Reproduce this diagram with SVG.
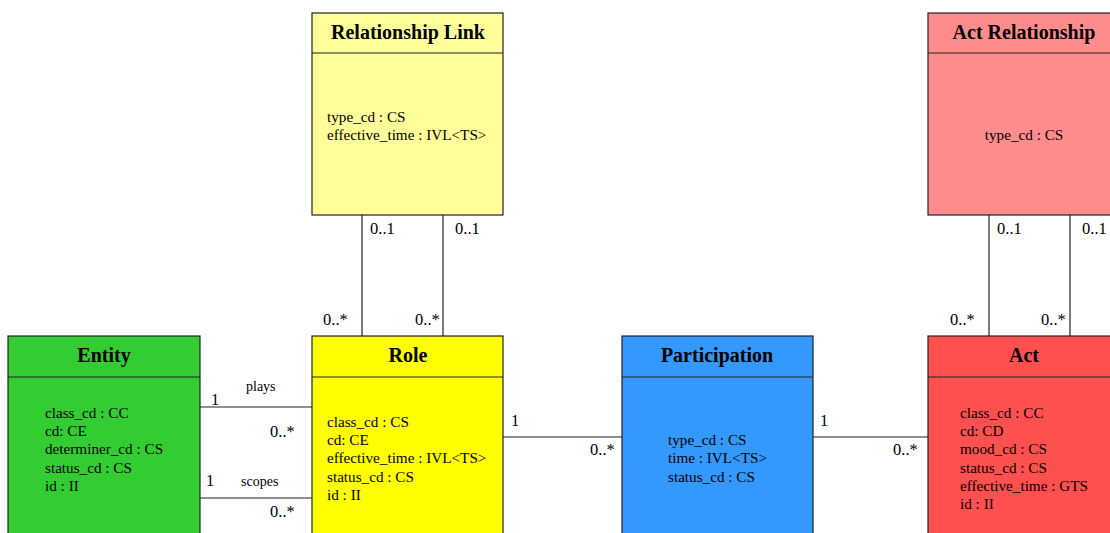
<svg xmlns="http://www.w3.org/2000/svg" width="1110" height="533" viewBox="0 0 1110 533">
<style>
.box{stroke:#222;stroke-width:1.2}
.ln{stroke:#222;stroke-width:1.2;fill:none}
.t{font-family:"Liberation Serif",serif;font-size:20px;font-weight:bold;text-anchor:middle;fill:#000}
.a{font-family:"Liberation Serif",serif;font-size:15.2px;fill:#000}
.m{font-family:"Liberation Serif",serif;font-size:16.5px;fill:#000}
.r{font-family:"Liberation Serif",serif;font-size:14px;fill:#000}
</style>
<rect width="1110" height="533" fill="#fff"/>
<g id="connectors">
<line class="ln" x1="362" y1="215" x2="362" y2="336"/>
<line class="ln" x1="443" y1="215" x2="443" y2="336"/>
<line class="ln" x1="989" y1="215" x2="989" y2="336"/>
<line class="ln" x1="1070" y1="215" x2="1070" y2="336"/>
<line class="ln" x1="200" y1="407" x2="312" y2="407"/>
<line class="ln" x1="200" y1="498" x2="312" y2="498"/>
<line class="ln" x1="503" y1="437" x2="622" y2="437"/>
<line class="ln" x1="813" y1="437" x2="928" y2="437"/>
<text class="m" x="370" y="234">0..1</text>
<text class="m" x="455" y="234">0..1</text>
<text class="m" x="323" y="325">0..*</text>
<text class="m" x="415" y="325">0..*</text>
<text class="m" x="997" y="234">0..1</text>
<text class="m" x="1082" y="234">0..1</text>
<text class="m" x="950" y="325">0..*</text>
<text class="m" x="1041" y="325">0..*</text>
<text class="r" x="246" y="391">plays</text>
<text class="m" x="211" y="405">1</text>
<text class="m" x="270" y="437">0..*</text>
<text class="r" x="241" y="486">scopes</text>
<text class="m" x="206" y="486">1</text>
<text class="m" x="270" y="517">0..*</text>
<text class="m" x="511" y="426">1</text>
<text class="m" x="590" y="455">0..*</text>
<text class="m" x="820" y="426">1</text>
<text class="m" x="893" y="455">0..*</text>
</g>
<g id="relationship-link">
<rect class="box" x="312" y="13" width="191" height="202" fill="#ffff99"/>
<line class="ln" x1="312" y1="53" x2="503" y2="53"/>
<text class="t" x="408" y="39">Relationship Link</text>
<text class="a" x="327" y="122">type_cd : CS</text>
<text class="a" x="327" y="140">effective_time : IVL&lt;TS&gt;</text>
</g>
<g id="act-relationship">
<rect class="box" x="928" y="13" width="192" height="202" fill="#ff8c8c"/>
<line class="ln" x1="928" y1="53" x2="1120" y2="53"/>
<text class="t" x="1024" y="39">Act Relationship</text>
<text class="a" x="1024" y="140" text-anchor="middle">type_cd : CS</text>
</g>
<g id="entity">
<rect class="box" x="8" y="336" width="192" height="210" fill="#33cc33"/>
<line class="ln" x1="8" y1="377" x2="200" y2="377"/>
<text class="t" x="104" y="362">Entity</text>
<text class="a" x="45" y="418">class_cd : CC</text>
<text class="a" x="45" y="436">cd: CE</text>
<text class="a" x="45" y="454">determiner_cd : CS</text>
<text class="a" x="45" y="473">status_cd : CS</text>
<text class="a" x="45" y="491">id : II</text>
</g>
<g id="role">
<rect class="box" x="312" y="336" width="191" height="210" fill="#ffff00"/>
<line class="ln" x1="312" y1="377" x2="503" y2="377"/>
<text class="t" x="408" y="362">Role</text>
<text class="a" x="327" y="427">class_cd : CS</text>
<text class="a" x="327" y="445">cd: CE</text>
<text class="a" x="327" y="463">effective_time : IVL&lt;TS&gt;</text>
<text class="a" x="327" y="482">status_cd : CS</text>
<text class="a" x="327" y="500">id : II</text>
</g>
<g id="participation">
<rect class="box" x="622" y="336" width="191" height="210" fill="#3399ff"/>
<line class="ln" x1="622" y1="377" x2="813" y2="377"/>
<text class="t" x="717" y="362">Participation</text>
<text class="a" x="668" y="445">type_cd : CS</text>
<text class="a" x="668" y="463">time : IVL&lt;TS&gt;</text>
<text class="a" x="668" y="482">status_cd : CS</text>
</g>
<g id="act">
<rect class="box" x="928" y="336" width="192" height="210" fill="#ff5050"/>
<line class="ln" x1="928" y1="377" x2="1120" y2="377"/>
<text class="t" x="1024" y="362">Act</text>
<text class="a" x="960" y="418">class_cd : CC</text>
<text class="a" x="960" y="436">cd: CD</text>
<text class="a" x="960" y="454">mood_cd : CS</text>
<text class="a" x="960" y="473">status_cd : CS</text>
<text class="a" x="960" y="491">effective_time : GTS</text>
<text class="a" x="960" y="509">id : II</text>
</g>
</svg>
